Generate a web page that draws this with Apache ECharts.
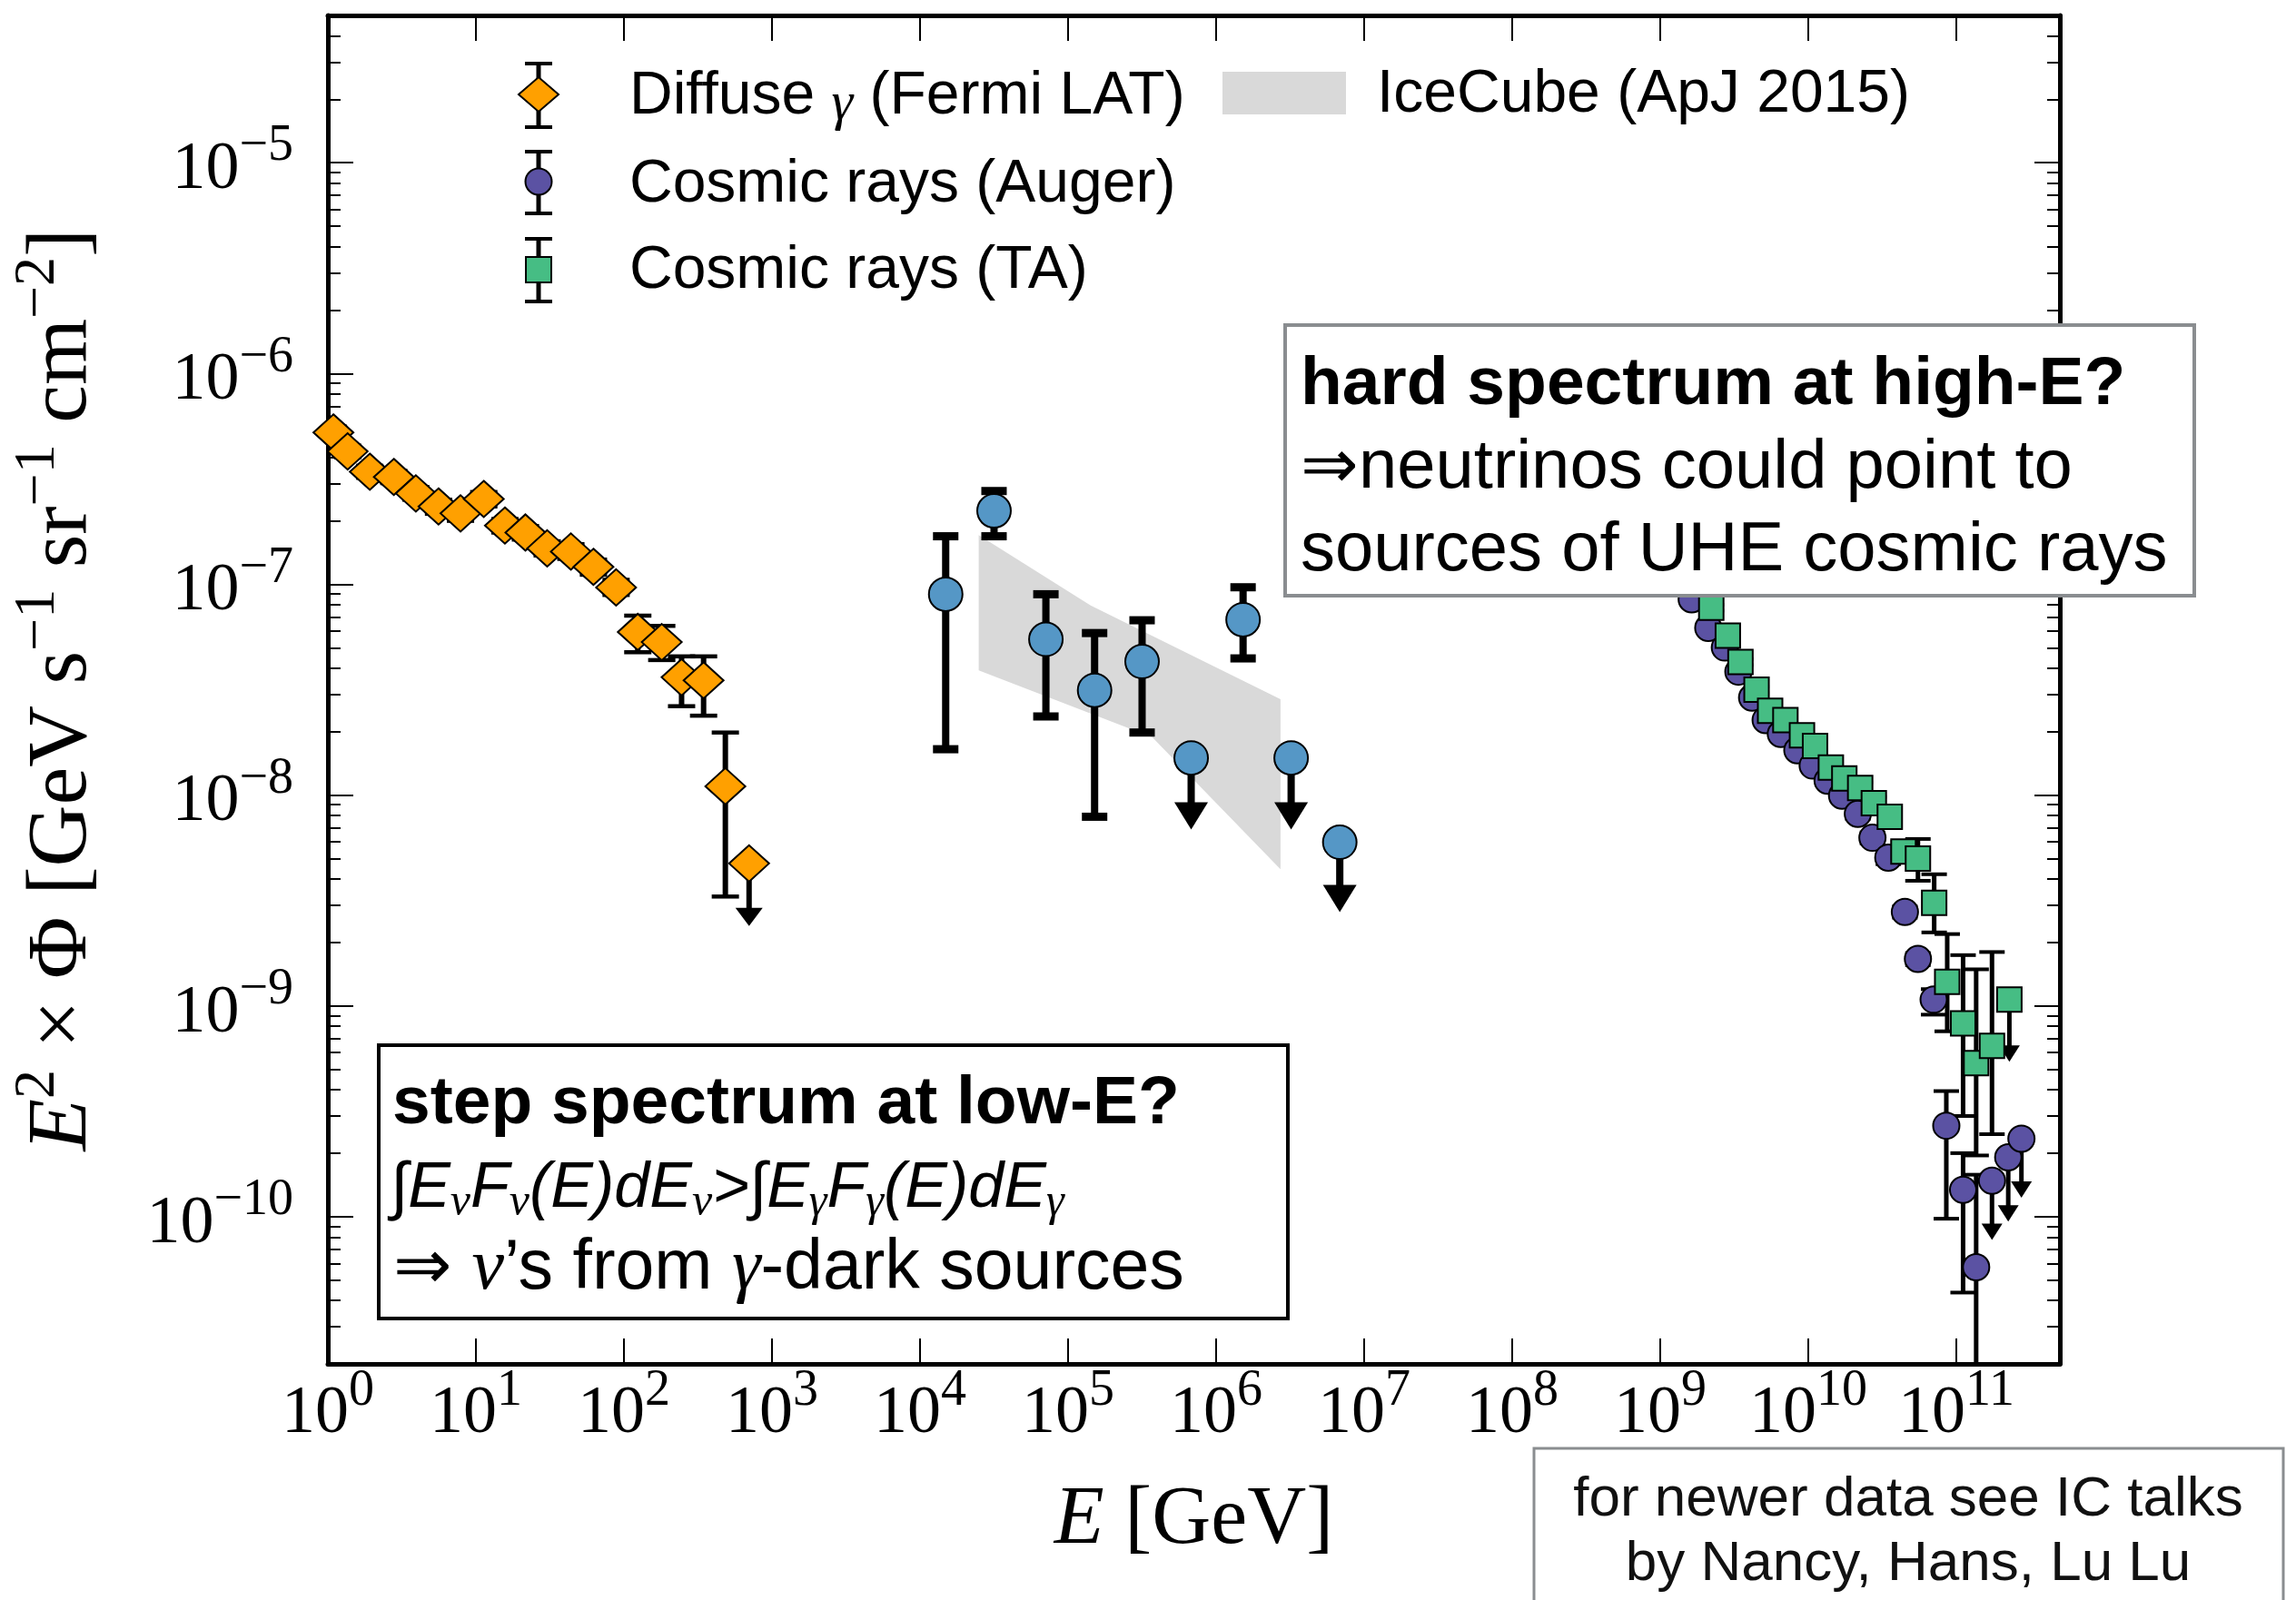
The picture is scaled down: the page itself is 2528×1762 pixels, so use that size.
<!DOCTYPE html>
<html><head><meta charset="utf-8">
<script src="https://cdn.jsdelivr.net/npm/echarts@6/dist/echarts.min.js"></script>
<style>html,body{margin:0;padding:0;background:#fff}#c{width:2528px;height:1762px}</style>
</head><body><div id="c"></div>
<script>
// ---------------- data ----------------
const xMajorTicks = [1, 1e1, 1e2, 1e3, 1e4, 1e5, 1e6, 1e7, 1e8, 1e9, 1e10, 1e11];
const yMajorTicks = [1e-10, 1e-9, 1e-8, 1e-7, 1e-6, 1e-5];
const yMinorMultipliers = [2, 3, 4, 5, 6, 7, 8, 9];
const yMinorDecades = [1e-11, 1e-10, 1e-9, 1e-8, 1e-7, 1e-6, 1e-5];

// Diffuse gamma (Fermi LAT)
const fermiE  = [1.09, 1.36, 1.92, 2.79, 3.93, 5.59, 7.87, 11.3, 15.7, 21.6, 30.3, 43.8, 62.2, 88.5, 124, 180, 245, 345, 484, 700];
const fermiF  = [5.25e-7, 4.27e-7, 3.42e-7, 3.23e-7, 2.70e-7, 2.34e-7, 2.17e-7, 2.54e-7, 1.90e-7, 1.76e-7, 1.48e-7, 1.43e-7, 1.21e-7, 9.66e-8, 5.94e-8, 5.32e-8, 3.62e-8, 3.50e-8, 1.10e-8, 4.74e-9];
const fermiHi = [5.6e-7, 4.55e-7, 3.65e-7, 3.45e-7, 2.89e-7, 2.52e-7, 2.35e-7, 2.74e-7, 2.04e-7, 1.89e-7, 1.60e-7, 1.55e-7, 1.31e-7, 1.05e-7, 7.10e-8, 6.35e-8, 4.55e-8, 4.55e-8, 1.98e-8, 4.74e-9];
const fermiLo = [4.9e-7, 4.0e-7, 3.2e-7, 3.02e-7, 2.52e-7, 2.16e-7, 2.0e-7, 2.34e-7, 1.76e-7, 1.63e-7, 1.37e-7, 1.32e-7, 1.11e-7, 8.9e-8, 4.76e-8, 4.37e-8, 2.64e-8, 2.38e-8, 3.30e-9, 2.39e-9];
const fermiUL = [0,0,0,0,0,0,0,0,0,0,0,0,0,0,0,0,0,0,0,1];

// IceCube (ApJ 2015) points and band
const icE  = [1.49e4, 3.16e4, 7.08e4, 1.51e5, 3.16e5, 6.78e5, 1.52e6, 3.21e6, 6.84e6];
const icF  = [8.97e-8, 2.23e-7, 5.48e-8, 3.14e-8, 4.30e-8, 1.50e-8, 6.79e-8, 1.50e-8, 5.97e-9];
const icHi = [1.69e-7, 2.77e-7, 8.97e-8, 5.87e-8, 6.75e-8, 1.50e-8, 9.68e-8, 1.50e-8, 5.97e-9];
const icLo = [1.65e-8, 1.69e-7, 2.36e-8, 7.89e-9, 1.98e-8, 6.87e-9, 4.45e-8, 6.87e-9, 2.78e-9];
const icUL = [0,0,0,0,0,1,0,1,1];
const icBandUpperE = [2.49e4, 1.42e5, 2.72e6];
const icBandUpperF = [1.71e-7, 7.94e-8, 2.85e-8];
const icBandLowerE = [2.49e4, 3.71e5, 2.72e6];
const icBandLowerF = [3.90e-8, 1.88e-8, 4.45e-9];

// Cosmic rays (Auger)
const augerE  = [1.63e9, 2.11e9, 2.73e9, 3.37e9, 4.17e9, 5.15e9, 6.52e9, 8.43e9, 1.07e10, 1.35e10, 1.69e10, 2.16e10, 2.71e10, 3.47e10, 4.49e10, 5.50e10, 7.02e10, 8.55e10, 1.11e11, 1.36e11, 1.74e11, 2.24e11, 2.75e11];
const augerF  = [8.49e-8, 6.21e-8, 5.01e-8, 3.85e-8, 2.90e-8, 2.27e-8, 1.95e-8, 1.63e-8, 1.38e-8, 1.17e-8, 9.93e-9, 8.15e-9, 6.27e-9, 5.05e-9, 2.79e-9, 1.67e-9, 1.07e-9, 2.70e-10, 1.34e-10, 5.75e-11, 1.48e-10, 1.91e-10, 2.34e-10];
const augerHi = [8.7e-8, 6.4e-8, 5.15e-8, 3.97e-8, 2.99e-8, 2.35e-8, 2.02e-8, 1.69e-8, 1.44e-8, 1.22e-8, 1.04e-8, 8.6e-9, 6.65e-9, 5.4e-9, 2.96e-9, 1.78e-9, 1.2e-9, 3.94e-10, 2.0e-10, 1.58e-10, 1.48e-10, 1.91e-10, 2.34e-10];
const augerLo = [8.3e-8, 6.05e-8, 4.87e-8, 3.74e-8, 2.81e-8, 2.2e-8, 1.88e-8, 1.57e-8, 1.32e-8, 1.12e-8, 9.45e-9, 7.7e-9, 5.9e-9, 4.7e-9, 2.62e-9, 1.56e-9, 9.08e-10, 9.77e-11, 4.36e-11, 3.0e-12, 7.74e-11, 9.46e-11, 1.23e-10];
const augerUL = [0,0,0,0,0,0,0,0,0,0,0,0,0,0,0,0,0,0,0,0,1,1,1];

// Cosmic rays (TA)
const taE  = [2.21e9, 2.86e9, 3.48e9, 4.47e9, 5.52e9, 7.00e9, 9.06e9, 1.11e10, 1.42e10, 1.75e10, 2.24e10, 2.77e10, 3.55e10, 4.39e10, 5.50e10, 7.08e10, 8.67e10, 1.11e11, 1.36e11, 1.74e11, 2.28e11];
const taF  = [7.74e-8, 5.71e-8, 4.28e-8, 3.16e-8, 2.51e-8, 2.27e-8, 1.92e-8, 1.71e-8, 1.35e-8, 1.20e-8, 1.08e-8, 9.14e-9, 7.89e-9, 5.40e-9, 5.00e-9, 3.08e-9, 1.30e-9, 8.26e-10, 5.35e-10, 6.46e-10, 1.07e-9];
const taHi = [8.0e-8, 5.9e-8, 4.42e-8, 3.27e-8, 2.6e-8, 2.36e-8, 2.0e-8, 1.79e-8, 1.42e-8, 1.27e-8, 1.15e-8, 9.8e-9, 8.6e-9, 6.0e-9, 6.19e-9, 4.21e-9, 2.19e-9, 1.74e-9, 1.49e-9, 1.80e-9, 1.07e-9];
const taLo = [7.5e-8, 5.5e-8, 4.14e-8, 3.05e-8, 2.42e-8, 2.18e-8, 1.84e-8, 1.63e-8, 1.28e-8, 1.13e-8, 1.01e-8, 8.5e-9, 7.2e-9, 4.8e-9, 3.92e-9, 2.23e-9, 7.57e-10, 3.00e-10, 1.95e-10, 2.46e-10, 5.43e-10];
const taUL = [0,0,0,0,0,0,0,0,0,0,0,0,0,0,0,0,0,0,0,0,1];

const X_MIN = 1, X_MAX = 5.0e11, Y_MIN = 2.0e-11, Y_MAX = 5.0e-5;

// ---------------- styles ----------------
const C_ORANGE = '#ffa000', C_BLUE = '#5597c6', C_PURPLE = '#5b52a3', C_GREEN = '#46bd84', C_BAND = '#d9d9d9';
const SERIF = '"Liberation Serif", "DejaVu Serif", serif';
const SANS = '"Liberation Sans", Arial, Helvetica, sans-serif';

const yMinorTicks = [];
yMinorDecades.forEach(d => yMinorMultipliers.forEach(m => { const v = m * d; if (v >= Y_MIN && v <= Y_MAX) yMinorTicks.push(v); }));

function expLabel(v) {
  const e = Math.round(Math.log10(v));
  return '{b|10}{s|' + (e < 0 ? '\u2212' + (-e) : e) + '}';
}
const tickRich = {
  b: {fontFamily: SERIF, fontSize: 74, color: '#000', verticalAlign: 'bottom'},
  s: {fontFamily: SERIF, fontSize: 56, color: '#000', verticalAlign: 'bottom', padding: [0, 0, 35, 0]}
};

function pack(E, F, lo, hi, ul) { return E.map((e, i) => [e, F[i], lo[i], hi[i], ul[i]]); }

function errRender(st) {
  return function (params, api) {
    const x = api.value(0), y = api.value(1), lo = api.value(2), hi = api.value(3), ul = api.value(4);
    const p = api.coord([x, y]), pl = api.coord([x, lo]), ph = api.coord([x, hi]);
    const kids = [];
    const ls = {stroke: '#000', lineWidth: st.lw};
    if (ul) {
      kids.push({type: 'line', shape: {x1: p[0], y1: p[1], x2: p[0], y2: pl[1] - st.ah * 0.5}, style: ls});
      kids.push({type: 'polygon', shape: {points: [[p[0] - st.aw / 2, pl[1] - st.ah], [p[0] + st.aw / 2, pl[1] - st.ah], [p[0], pl[1]]]}, style: {fill: '#000'}});
    } else {
      kids.push({type: 'line', shape: {x1: p[0], y1: ph[1], x2: p[0], y2: pl[1]}, style: ls});
      kids.push({type: 'line', shape: {x1: p[0] - st.cw / 2, y1: ph[1], x2: p[0] + st.cw / 2, y2: ph[1]}, style: {stroke: '#000', lineWidth: st.ct}});
      kids.push({type: 'line', shape: {x1: p[0] - st.cw / 2, y1: pl[1], x2: p[0] + st.cw / 2, y2: pl[1]}, style: {stroke: '#000', lineWidth: st.ct}});
    }
    return {type: 'group', children: kids};
  };
}

function errSeries(name, data, st) {
  return {name: name, type: 'custom', xAxisIndex: 0, yAxisIndex: 0, clip: true, silent: true,
    encode: {x: 0, y: 1}, data: data, renderItem: errRender(st)};
}
function markSeries(name, E, F, symbol, size, color) {
  return {name: name, type: 'scatter', xAxisIndex: 0, yAxisIndex: 0, clip: true, silent: true,
    symbol: symbol, symbolSize: size, data: E.map((e, i) => [e, F[i]]),
    itemStyle: {color: color, borderColor: '#000', borderWidth: 2, opacity: 1},
    emphasis: {disabled: true}};
}

function baseAxis(extra) {
  return Object.assign({
    type: 'log', logBase: 10,
    axisLine: {show: true, onZero: false, lineStyle: {color: '#000', width: 5}},
    splitLine: {show: false}, minorTick: {show: false}, minorSplitLine: {show: false}
  }, extra);
}

// ---------------- legend & annotation graphics ----------------
const graphics = [];
function addLegendErr(cx, y1, y2) {
  graphics.push({type: 'line', z: 100, shape: {x1: cx, y1: y1, x2: cx, y2: y2}, style: {stroke: '#000', lineWidth: 5}});
  graphics.push({type: 'line', z: 100, shape: {x1: cx - 15, y1: y1, x2: cx + 15, y2: y1}, style: {stroke: '#000', lineWidth: 4}});
  graphics.push({type: 'line', z: 100, shape: {x1: cx - 15, y1: y2, x2: cx + 15, y2: y2}, style: {stroke: '#000', lineWidth: 4}});
}
const legTextRich = {
  n: {fontFamily: SANS, fontSize: 66, color: '#111'},
  g: {fontFamily: SERIF, fontStyle: 'italic', fontSize: 60, color: '#111', padding: [16, 0, 0, 0]}
};
// Fermi
addLegendErr(593, 70, 140);
graphics.push({type: 'polygon', z: 101, shape: {points: [[571, 104], [593, 85], [615, 104], [593, 123]]}, style: {fill: C_ORANGE, stroke: '#000', lineWidth: 2}});
graphics.push({type: 'text', z: 101, x: 693, y: 107, style: {text: '{n|Diffuse }{g|\u03b3}{n| (Fermi LAT)}', rich: legTextRich, verticalAlign: 'middle', align: 'left'}});
// Auger
addLegendErr(593, 167, 235);
graphics.push({type: 'circle', z: 101, shape: {cx: 593, cy: 200, r: 14.5}, style: {fill: C_PURPLE, stroke: '#000', lineWidth: 2}});
graphics.push({type: 'text', z: 101, x: 693, y: 204, style: {text: '{n|Cosmic rays (Auger)}', rich: legTextRich, verticalAlign: 'middle', align: 'left'}});
// TA
addLegendErr(593, 263, 332);
graphics.push({type: 'rect', z: 101, shape: {x: 579, y: 283, width: 28, height: 28}, style: {fill: C_GREEN, stroke: '#000', lineWidth: 2}});
graphics.push({type: 'text', z: 101, x: 693, y: 299, style: {text: '{n|Cosmic rays (TA)}', rich: legTextRich, verticalAlign: 'middle', align: 'left'}});
// IceCube band
graphics.push({type: 'rect', z: 101, shape: {x: 1346, y: 79, width: 136, height: 47}, style: {fill: C_BAND}});
graphics.push({type: 'text', z: 101, x: 1516, y: 105, style: {text: '{n|IceCube (ApJ 2015)}', rich: legTextRich, verticalAlign: 'middle', align: 'left'}});

// Box 1: hard spectrum
graphics.push({type: 'rect', z: 110, shape: {x: 1415, y: 358, width: 1001, height: 298}, style: {fill: '#fff', stroke: '#8a8d90', lineWidth: 4}});
graphics.push({type: 'text', z: 111, x: 1432, y: 424, style: {text: 'hard spectrum at high-E?', font: 'bold 75px ' + SANS, fill: '#000', verticalAlign: 'middle'}});
graphics.push({type: 'text', z: 111, x: 1432, y: 516, style: {text: '\u21d2neutrinos could point to', font: '76px ' + SANS, fill: '#000', verticalAlign: 'middle'}});
graphics.push({type: 'text', z: 111, x: 1432, y: 607, style: {text: 'sources of UHE cosmic rays', font: '76px ' + SANS, fill: '#000', verticalAlign: 'middle'}});

// Box 2: step spectrum
graphics.push({type: 'rect', z: 110, shape: {x: 417, y: 1151, width: 1001, height: 301}, style: {fill: '#fff', stroke: '#000', lineWidth: 4}});
graphics.push({type: 'text', z: 111, x: 432, y: 1216, style: {text: 'step spectrum at low-E?', font: 'bold 75px ' + SANS, fill: '#000', verticalAlign: 'middle'}});
const mathRich = {
  m: {fontFamily: SANS, fontStyle: 'italic', fontSize: 70, color: '#000'},
  u: {fontFamily: SERIF, fontStyle: 'italic', fontSize: 50, color: '#000', padding: [30, 0, 0, 0]}
};
graphics.push({type: 'text', z: 111, x: 430, y: 1310, style: {
  text: '{m|\u222bE}{u|\u03bd}{m|F}{u|\u03bd}{m|(E)dE}{u|\u03bd}{m|>\u222bE}{u|\u03b3}{m|F}{u|\u03b3}{m|(E)dE}{u|\u03b3}',
  rich: mathRich, verticalAlign: 'middle'}});
const l3Rich = {
  a: {fontFamily: SANS, fontSize: 77, color: '#000'},
  i: {fontFamily: SERIF, fontStyle: 'italic', fontSize: 80, color: '#000'}
};
graphics.push({type: 'text', z: 111, x: 433, y: 1398, style: {
  text: '{a|\u21d2 }{i|\u03bd}{a|\u2019s from }{i|\u03b3}{a|-dark sources}', rich: l3Rich, verticalAlign: 'middle'}});

// Box 3: note
graphics.push({type: 'rect', z: 110, shape: {x: 1689, y: 1595, width: 825, height: 200}, style: {fill: '#fff', stroke: '#8a8d90', lineWidth: 3}});
graphics.push({type: 'text', z: 111, x: 2101, y: 1652, style: {text: 'for newer data see IC talks', font: '62px ' + SANS, fill: '#111', align: 'center', verticalAlign: 'middle'}});
graphics.push({type: 'text', z: 111, x: 2101, y: 1723, style: {text: 'by Nancy, Hans, Lu Lu', font: '62px ' + SANS, fill: '#111', align: 'center', verticalAlign: 'middle'}});

// ---------------- chart ----------------
const chart = echarts.init(document.getElementById('c'), null, {renderer: 'canvas', width: 2528, height: 1762});
const option = {
  animation: false,
  backgroundColor: '#ffffff',
  grid: {left: 361, right: 260, top: 17, bottom: 260, containLabel: false},
  xAxis: [
    baseAxis({min: X_MIN, max: X_MAX, position: 'bottom',
      axisTick: {show: true, inside: true, length: 28, lineStyle: {color: '#000', width: 2}, customValues: xMajorTicks},
      axisLabel: {show: true, margin: 2, customValues: xMajorTicks, formatter: expLabel, rich: tickRich},
      name: '{i|E}{n| [GeV]}', nameLocation: 'middle', nameGap: 128,
      nameTextStyle: {rich: {
        i: {fontFamily: SERIF, fontStyle: 'italic', fontSize: 90, color: '#000'},
        n: {fontFamily: SERIF, fontSize: 90, color: '#000'}}}
    }),
    baseAxis({min: X_MIN, max: X_MAX, position: 'top',
      axisTick: {show: true, inside: true, length: 28, lineStyle: {color: '#000', width: 2}, customValues: xMajorTicks},
      axisLabel: {show: false}
    })
  ],
  yAxis: [
    baseAxis({min: Y_MIN, max: Y_MAX, position: 'left',
      axisTick: {show: true, inside: true, length: 28, lineStyle: {color: '#000', width: 2}, customValues: yMajorTicks},
      axisLabel: {show: true, margin: 38, customValues: yMajorTicks, formatter: expLabel, rich: tickRich},
      name: '{i|E}{p|2}{n| \u00d7 \u03a6 [GeV s}{p|\u22121}{n| sr}{p|\u22121}{n| cm}{p|\u22122}{n|]}',
      nameLocation: 'middle', nameRotate: 90, nameGap: 245,
      nameTextStyle: {rich: {
        i: {fontFamily: SERIF, fontStyle: 'italic', fontSize: 94, color: '#000', verticalAlign: 'bottom'},
        n: {fontFamily: SERIF, fontSize: 94, color: '#000', verticalAlign: 'bottom'},
        p: {fontFamily: SERIF, fontSize: 64, color: '#000', verticalAlign: 'bottom', padding: [0, 0, 42, 0]}}}
    }),
    baseAxis({min: Y_MIN, max: Y_MAX, position: 'left',
      axisLine: {show: false},
      axisTick: {show: true, inside: true, length: 14, lineStyle: {color: '#000', width: 2}, customValues: yMinorTicks},
      axisLabel: {show: false}
    }),
    baseAxis({min: Y_MIN, max: Y_MAX, position: 'right',
      axisTick: {show: true, inside: true, length: 28, lineStyle: {color: '#000', width: 2}, customValues: yMajorTicks},
      axisLabel: {show: false}
    }),
    baseAxis({min: Y_MIN, max: Y_MAX, position: 'right',
      axisLine: {show: false},
      axisTick: {show: true, inside: true, length: 14, lineStyle: {color: '#000', width: 2}, customValues: yMinorTicks},
      axisLabel: {show: false}
    })
  ],
  series: [
    {name: 'IceCube band', type: 'custom', xAxisIndex: 0, yAxisIndex: 0, clip: true, silent: true,
      encode: {x: 0, y: 1},
      data: icBandUpperE.map((e, i) => [e, icBandUpperF[i]]),
      renderItem: function (params, api) {
        if (params.dataIndex !== 0) return null;
        const pts = [];
        icBandUpperE.forEach((e, i) => pts.push(api.coord([e, icBandUpperF[i]])));
        for (let i = icBandLowerE.length - 1; i >= 0; i--) pts.push(api.coord([icBandLowerE[i], icBandLowerF[i]]));
        return {type: 'polygon', shape: {points: pts}, style: {fill: C_BAND}};
      }},
    errSeries('Fermi err', pack(fermiE, fermiF, fermiLo, fermiHi, fermiUL), {lw: 6, cw: 30, ct: 4.5, aw: 30, ah: 20}),
    markSeries('Diffuse \u03b3 (Fermi LAT)', fermiE, fermiF, 'diamond', [44, 40], C_ORANGE),
    errSeries('IceCube err', pack(icE, icF, icLo, icHi, icUL), {lw: 8, cw: 28, ct: 9, aw: 37, ah: 30}),
    markSeries('IceCube', icE, icF, 'circle', 37, C_BLUE),
    errSeries('Auger err', pack(augerE, augerF, augerLo, augerHi, augerUL), {lw: 5, cw: 28, ct: 4, aw: 23, ah: 18}),
    markSeries('Cosmic rays (Auger)', augerE, augerF, 'circle', 29, C_PURPLE),
    errSeries('TA err', pack(taE, taF, taLo, taHi, taUL), {lw: 5, cw: 28, ct: 4, aw: 23, ah: 18}),
    markSeries('Cosmic rays (TA)', taE, taF, 'rect', 27, C_GREEN)
  ],
  graphic: graphics
};
chart.setOption(option);
</script></body></html>
